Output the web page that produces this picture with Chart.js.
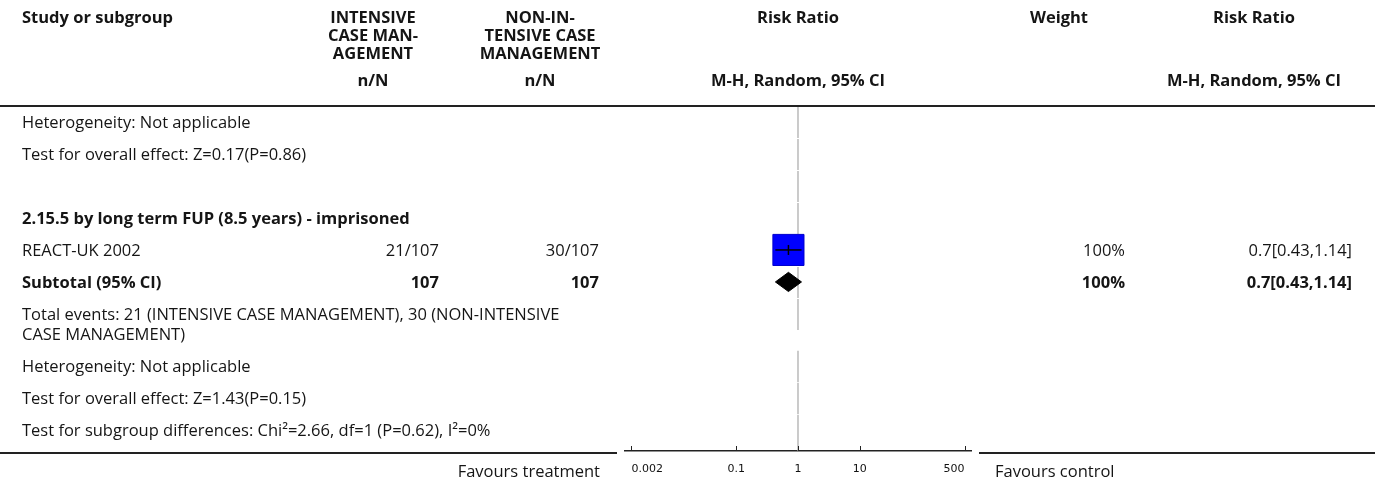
<!DOCTYPE html>
<html>
<head>
<meta charset="utf-8">
<script src="https://cdn.jsdelivr.net/npm/chart.js@4.4.1/dist/chart.umd.min.js"></script>
<style>
  body { margin: 0; background: #fff; }
  #wrap { position: relative; width: 1375px; height: 482px; overflow: hidden;
          font-family: "Open Sans", "Noto Sans", sans-serif; font-size: 16.5px; color: #151515; }
  #plot { position: absolute; left: 0; top: 0; }
  .cell { position: absolute; white-space: nowrap; }
  .b { font-weight: bold; }
  .rule { position: absolute; height: 2px; background: #222; }
</style>
</head>
<body>
<div id="wrap">
  <canvas id="plot" width="1375" height="520"></canvas>
</div>
<script>
// data
const studies = ["REACT-UK 2002"];
const intEvents = [21];
const intTotal = [107];
const ctlEvents = [30];
const ctlTotal = [107];
const rr = [0.7];
const rrLow = [0.43];
const rrHigh = [1.14];
const weights = [100];

const subtotalN = [107, 107];
const subtotalWeight = 100;
const subtotalRR = [0.7, 0.43, 1.14]; // estimate, low, high

const tickValues = [0.002, 0.1, 1, 10, 500];
const tickLabels = ["0.002", "0.1", "1", "10", "500"];

// table rows under the header
const rowDefs = [
  { label: "Heterogeneity: Not applicable" },
  { label: "Test for overall effect: Z=0.17(P=0.86)" },
  { label: "" },
  { label: "2.15.5 by long term FUP (8.5 years) - imprisoned", bold: true },
  { label: studies[0], study: 0 },
  { label: "Subtotal (95% CI)", bold: true, subtotal: true },
  { label: "Total events: 21 (INTENSIVE CASE MANAGEMENT), 30 (NON-INTENSIVE<br>CASE MANAGEMENT)", lines: 2 },
  { label: "Heterogeneity: Not applicable" },
  { label: "Test for overall effect: Z=1.43(P=0.15)" },
  { label: "Test for subgroup differences: Chi\u00b2=2.66, df=1 (P=0.62), I\u00b2=0%" }
];

// layout (canvas is taller than the page, the overflow is hidden)
const W = 1375, CH = 520;
const AXIS_Y = 451;
const LINE = 20;
const EXTRA_LINE = 20 / 32;   // extra row units for a wrapped line
const COL = { label: 22, int: { c: 373, r: 439 }, ctl: { c: 540, r: 599 },
              wt: { c: 1059, r: 1125 }, rr: { c: 1254, r: 1352 } };

let acc = 0;
const rowTop = [], rowMid = [];
rowDefs.forEach(r => {
  const h = 1 + ((r.lines || 1) - 1) * EXTRA_LINE;
  rowTop.push(acc);
  rowMid.push(acc + h / 2);
  acc += h;
});
const yMax = acc + 0.16;

// reference line at RR = 1, one piece per row
const refLine = [];
rowDefs.forEach((r, i) => {
  const end = i === rowDefs.length - 1 ? yMax : rowTop[i] + 1;
  refLine.push({ x: 1, y: rowTop[i] + 0.03 }, { x: 1, y: end }, { x: 1, y: null });
});

const studyRow = rowDefs.findIndex(r => r.study === 0);
const subRow = rowDefs.findIndex(r => r.subtotal);
const dH = 0.3; // diamond half height in row units

const ciLines = [];
studies.forEach((s, i) => {
  ciLines.push({ x: rrLow[i], y: rowMid[studyRow + i] }, { x: rrHigh[i], y: rowMid[studyRow + i] }, { x: rrHigh[i], y: null });
});

// small tick marks pointing up from the axis line
const upTicks = {
  id: "upTicks",
  afterDraw(c) {
    const xs = c.scales.x, g = c.ctx, b = c.chartArea.bottom;
    g.save();
    g.strokeStyle = "#222";
    g.lineWidth = 1;
    xs.ticks.forEach(t => {
      const px = Math.round(xs.getPixelForValue(t.value)) + 0.5;
      g.beginPath();
      g.moveTo(px, b - 5);
      g.lineTo(px, b);
      g.stroke();
    });
    g.restore();
  }
};

const ctx = document.getElementById("plot").getContext("2d");
const chart = new Chart(ctx, {
  type: "scatter",
  data: {
    datasets: [
      {
        type: "line",
        data: ciLines,
        borderColor: "#000",
        borderWidth: 1.5,
        pointRadius: 0,
        spanGaps: false,
        order: 0
      },
      {
        data: studies.map((s, i) => ({ x: rr[i], y: rowMid[studyRow + i] })),
        pointStyle: "line",
        rotation: 90,
        pointRadius: 5,
        borderColor: "#000",
        borderWidth: 1.5,
        order: 0
      },
      {
        type: "line",
        data: [
          { x: subtotalRR[1], y: rowMid[subRow] },
          { x: subtotalRR[0], y: rowMid[subRow] - dH },
          { x: subtotalRR[2], y: rowMid[subRow] },
          { x: subtotalRR[0], y: rowMid[subRow] + dH },
          { x: subtotalRR[1], y: rowMid[subRow] }
        ],
        borderColor: "#000",
        backgroundColor: "#000",
        borderWidth: 1,
        fill: "shape",
        pointRadius: 0,
        tension: 0,
        order: 1
      },
      {
        data: studies.map((s, i) => ({ x: rr[i], y: rowMid[studyRow + i] })),
        pointStyle: "rect",
        pointRadius: 22,
        backgroundColor: "#0000ff",
        borderColor: "#0000cc",
        borderWidth: 1,
        order: 2
      },
      {
        type: "line",
        data: refLine,
        borderColor: "#a8a8a8",
        borderWidth: 1.2,
        pointRadius: 0,
        spanGaps: false,
        order: 3
      }
    ]
  },
  options: {
    responsive: false,
    animation: false,
    events: [],
    layout: { padding: { left: 625, right: W - 971, top: 106, bottom: 30 } },
    plugins: { legend: { display: false }, tooltip: { enabled: false } },
    scales: {
      x: {
        type: "logarithmic",
        min: 0.00157,
        max: 637,
        afterBuildTicks: scale => {
          scale.ticks = tickValues.map(v => ({ value: v }));
        },
        ticks: {
          callback: (v, i) => tickLabels[i],
          align: "inner",
          padding: 12,
          autoSkip: false,
          maxRotation: 0,
          color: "#111",
          font: { family: "DejaVu Sans", size: 11 }
        },
        grid: { display: true, drawOnChartArea: false, drawTicks: false },
        border: { display: true, color: "#222", width: 1.5 }
      },
      y: { type: "linear", reverse: true, min: 0, max: yMax, display: false }
    }
  },
  plugins: [upTicks]
});

// move the axis line to where the table ends
chart.options.layout.padding.bottom += chart.scales.y.bottom - AXIS_Y;
chart.update();

// table text, placed from the chart's own scales
const wrap = document.getElementById("wrap");
function put(html, x, yc, align, bold, lines, lh) {
  const d = document.createElement("div");
  const l = lh || LINE;
  d.className = "cell" + (bold ? " b" : "");
  d.innerHTML = html;
  d.style.lineHeight = l + "px";
  d.style.top = (yc - (lines || 1) * l / 2) + "px";
  if (align === "left") d.style.left = x + "px";
  else if (align === "right") d.style.right = (W - x) + "px";
  else { d.style.left = (x - 150) + "px"; d.style.width = "300px"; d.style.textAlign = "center"; }
  wrap.appendChild(d);
}
function rule(x0, x1, y) {
  const d = document.createElement("div");
  d.className = "rule";
  d.style.left = x0 + "px";
  d.style.width = (x1 - x0) + "px";
  d.style.top = y + "px";
  wrap.appendChild(d);
}

const xs = chart.scales.x, ys = chart.scales.y;
const plotC = xs.getPixelForValue(1);

// header
put("Study or subgroup", COL.label, 17, "left", true, 1, 18);
put("INTENSIVE<br>CASE MAN-<br>AGEMENT", COL.int.c, 35, "center", true, 3, 18);
put("NON-IN-<br>TENSIVE CASE<br>MANAGEMENT", COL.ctl.c, 35, "center", true, 3, 18);
put("Risk Ratio", plotC, 17, "center", true, 1, 18);
put("Weight", COL.wt.c, 17, "center", true, 1, 18);
put("Risk Ratio", COL.rr.c, 17, "center", true, 1, 18);
put("n/N", COL.int.c, 80, "center", true);
put("n/N", COL.ctl.c, 80, "center", true);
put("M-H, Random, 95% CI", plotC, 80, "center", true);
put("M-H, Random, 95% CI", COL.rr.c, 80, "center", true);
rule(0, W, ys.top - 1);

// body rows
rowDefs.forEach((r, i) => {
  const yc = ys.getPixelForValue(rowMid[i]);
  if (r.label) put(r.label, COL.label, yc, "left", r.bold, r.lines);
  if (r.study !== undefined) {
    const k = r.study;
    put(intEvents[k] + "/" + intTotal[k], COL.int.r, yc, "right");
    put(ctlEvents[k] + "/" + ctlTotal[k], COL.ctl.r, yc, "right");
    put(weights[k] + "%", COL.wt.r, yc, "right");
    put(rr[k] + "[" + rrLow[k] + "," + rrHigh[k] + "]", COL.rr.r, yc, "right");
  }
  if (r.subtotal) {
    put(String(subtotalN[0]), COL.int.r, yc, "right", true);
    put(String(subtotalN[1]), COL.ctl.r, yc, "right", true);
    put(subtotalWeight + "%", COL.wt.r, yc, "right", true);
    put(subtotalRR[0] + "[" + subtotalRR[1] + "," + subtotalRR[2] + "]", COL.rr.r, yc, "right", true);
  }
});

// bottom rule and favours labels
const axisY = ys.bottom;
rule(0, xs.left - 8, axisY + 1);
rule(xs.right + 8, W, axisY + 1);
put("Favours treatment", 600, 471, "right");
put("Favours control", 995, 471, "left");
</script>
</body>
</html>
